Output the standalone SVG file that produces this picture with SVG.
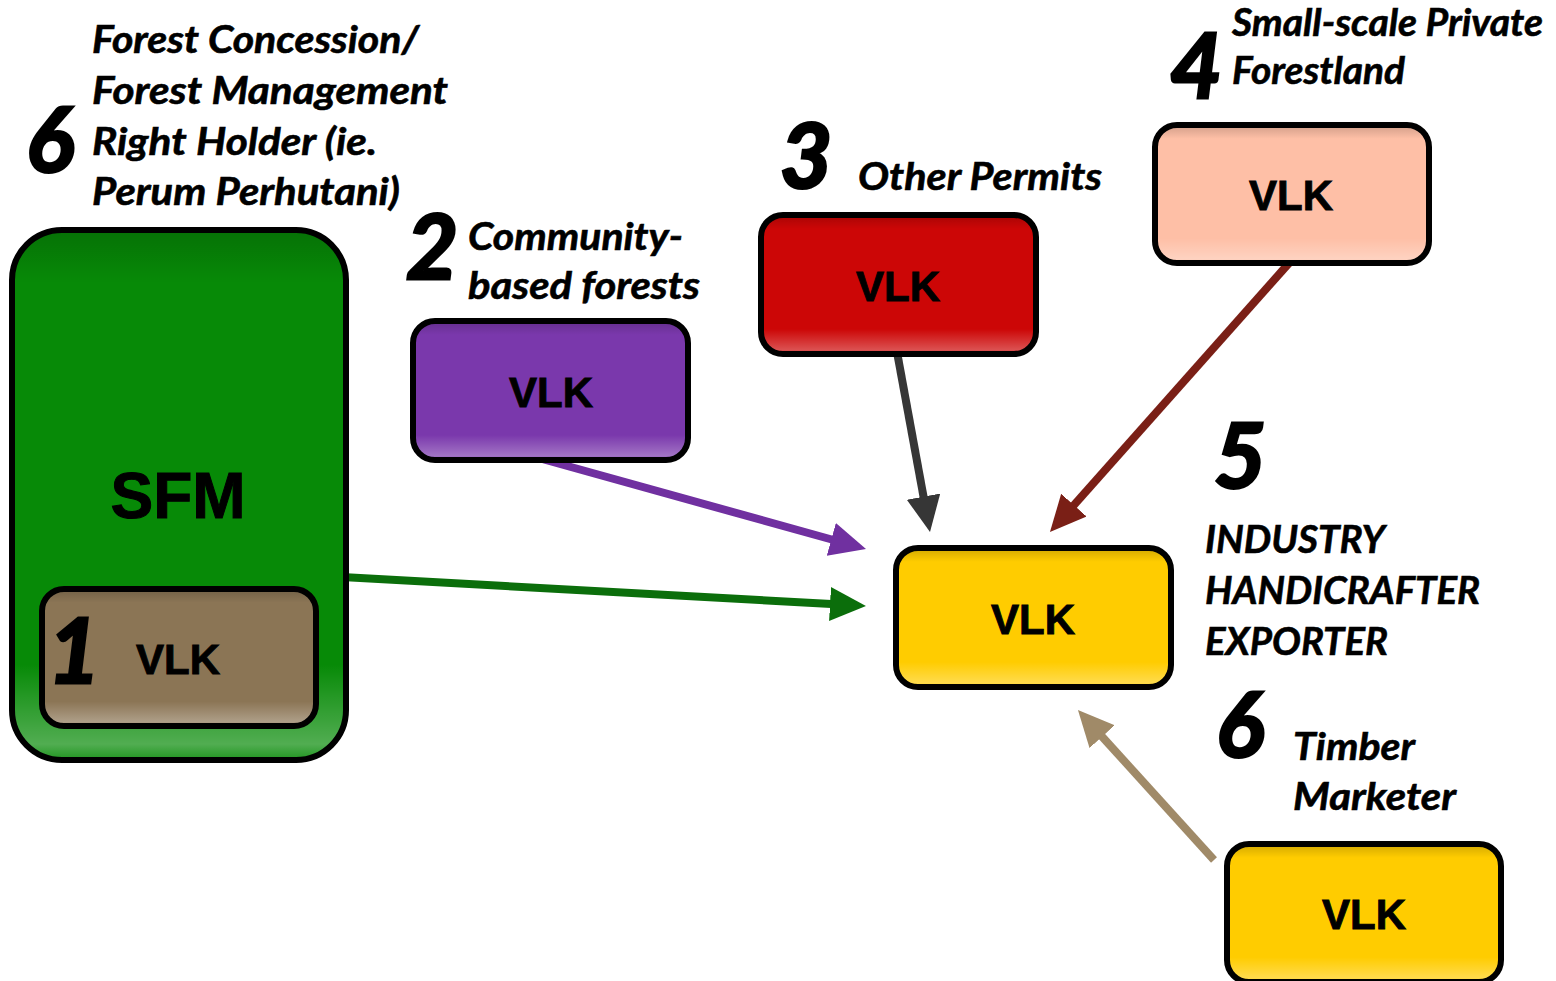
<svg xmlns="http://www.w3.org/2000/svg" width="1556" height="981" viewBox="0 0 1556 981">
<style>
.frame{stroke:#000;stroke-width:6;}
.gel{fill:url(#gel);}
.vlk{font-family:"Liberation Sans",Arial,sans-serif;font-weight:700;font-size:42px;fill:#000;stroke:#000;stroke-width:0.9;text-anchor:middle;}
.lbl{font-family:Lato,"Open Sans",sans-serif;font-weight:700;font-style:italic;font-size:38px;fill:#000;stroke:#000;stroke-width:0.6;}
.num{font-family:Lato,"Open Sans",sans-serif;font-weight:700;font-style:italic;font-size:90px;fill:#000;stroke:#000;stroke-width:3;}
.arr{fill:none;stroke-width:8;}
</style>
<defs>
<linearGradient id="gel" x1="0" y1="0" x2="0" y2="1">
<stop offset="0" stop-color="#000" stop-opacity="0.18"/>
<stop offset="0.1" stop-color="#000" stop-opacity="0"/>
<stop offset="0.82" stop-color="#fff" stop-opacity="0"/>
<stop offset="0.97" stop-color="#fff" stop-opacity="0.3"/>
<stop offset="1" stop-color="#fff" stop-opacity="0.1"/>
</linearGradient>
<marker id="mGreen" markerUnits="userSpaceOnUse" markerWidth="40" markerHeight="36" refX="6" refY="17" orient="auto"><path d="M0,0 L36,17 L0,34 z" fill="#0B6E0B"/></marker>
<marker id="mPurple" markerUnits="userSpaceOnUse" markerWidth="40" markerHeight="36" refX="6" refY="17" orient="auto"><path d="M0,0 L36,17 L0,34 z" fill="#7030A0"/></marker>
<marker id="mGray" markerUnits="userSpaceOnUse" markerWidth="40" markerHeight="36" refX="6" refY="17" orient="auto"><path d="M0,0 L36,17 L0,34 z" fill="#363636"/></marker>
<marker id="mRed" markerUnits="userSpaceOnUse" markerWidth="40" markerHeight="36" refX="6" refY="17" orient="auto"><path d="M0,0 L36,17 L0,34 z" fill="#7A1F16"/></marker>
<marker id="mTan" markerUnits="userSpaceOnUse" markerWidth="40" markerHeight="36" refX="6" refY="17" orient="auto"><path d="M0,0 L36,17 L0,34 z" fill="#A08A68"/></marker>
</defs>
<rect width="1556" height="981" fill="#fff"/>

<g id="connectors">
<line class="arr" x1="342" y1="577" x2="836" y2="604.3" stroke="#0B6E0B" marker-end="url(#mGreen)"/>
<line class="arr" x1="535" y1="457" x2="837.1" y2="541" stroke="#7030A0" marker-end="url(#mPurple)"/>
<line class="arr" x1="897" y1="352" x2="924.6" y2="502.5" stroke="#363636" marker-end="url(#mGray)"/>
<line class="arr" x1="1290" y1="262" x2="1069.9" y2="509.6" stroke="#7A1F16" marker-end="url(#mRed)"/>
<line class="arr" x1="1214" y1="860" x2="1098.1" y2="732.2" stroke="#A08A68" marker-end="url(#mTan)"/>
</g>

<g id="node-sfm">
<rect x="12" y="230" width="334" height="530" rx="50" fill="#078A07"/>
<rect x="12" y="230" width="334" height="530" rx="50" class="gel"/>
<rect x="12" y="230" width="334" height="530" rx="50" fill="none" class="frame"/>
<text x="178" y="518" font-family="Liberation Sans,Arial,sans-serif" font-weight="700" font-size="64" text-anchor="middle" stroke="#000" stroke-width="1">SFM</text>
</g>

<g id="node-1">
<rect x="42" y="589" width="274" height="137" rx="22" fill="#8B7555"/>
<rect x="42" y="589" width="274" height="137" rx="22" class="gel"/>
<rect x="42" y="589" width="274" height="137" rx="22" fill="none" class="frame"/>
<text class="num" x="48" y="683">1</text>
<text class="vlk" x="178" y="674">VLK</text>
</g>

<g id="label-6-forest">
<text class="num" x="26" y="172">6</text>
<text class="lbl" x="92" y="53" textLength="327" lengthAdjust="spacingAndGlyphs">Forest Concession/</text>
<text class="lbl" x="92" y="104" textLength="356" lengthAdjust="spacingAndGlyphs">Forest Management</text>
<text class="lbl" x="92" y="155" textLength="285" lengthAdjust="spacingAndGlyphs">Right Holder (ie.</text>
<text class="lbl" x="92" y="205" textLength="308" lengthAdjust="spacingAndGlyphs">Perum Perhutani)</text>
</g>

<g id="node-2">
<text class="num" x="406" y="279">2</text>
<text class="lbl" x="468" y="250" textLength="215" lengthAdjust="spacingAndGlyphs">Community-</text>
<text class="lbl" x="468" y="299" textLength="232" lengthAdjust="spacingAndGlyphs">based forests</text>
<rect x="413" y="321" width="275" height="139" rx="22" fill="#7A38AC"/>
<rect x="413" y="321" width="275" height="139" rx="22" class="gel"/>
<rect x="413" y="321" width="275" height="139" rx="22" fill="none" class="frame"/>
<text class="vlk" x="551" y="407">VLK</text>
</g>

<g id="node-3">
<text class="num" x="780" y="188">3</text>
<text class="lbl" x="858" y="190" textLength="244" lengthAdjust="spacingAndGlyphs">Other Permits</text>
<rect x="761" y="215" width="275" height="139" rx="22" fill="#CC0606"/>
<rect x="761" y="215" width="275" height="139" rx="22" class="gel"/>
<rect x="761" y="215" width="275" height="139" rx="22" fill="none" class="frame"/>
<text class="vlk" x="898" y="301">VLK</text>
</g>

<g id="node-4">
<text class="num" x="1170" y="98">4</text>
<text class="lbl" x="1232" y="36" textLength="311" lengthAdjust="spacingAndGlyphs">Small-scale Private</text>
<text class="lbl" x="1232" y="84" textLength="173" lengthAdjust="spacingAndGlyphs">Forestland</text>
<rect x="1155" y="125" width="274" height="138" rx="22" fill="#FEBFA6"/>
<rect x="1155" y="125" width="274" height="138" rx="22" class="gel"/>
<rect x="1155" y="125" width="274" height="138" rx="22" fill="none" class="frame"/>
<text class="vlk" x="1291" y="210">VLK</text>
</g>

<g id="node-5">
<rect x="896" y="548" width="275" height="139" rx="22" fill="#FFCC00"/>
<rect x="896" y="548" width="275" height="139" rx="22" class="gel"/>
<rect x="896" y="548" width="275" height="139" rx="22" fill="none" class="frame"/>
<text class="vlk" x="1033" y="634">VLK</text>
<text class="num" x="1214" y="488">5</text>
<text class="lbl" x="1205" y="553" textLength="180" lengthAdjust="spacingAndGlyphs">INDUSTRY</text>
<text class="lbl" x="1205" y="604" textLength="275" lengthAdjust="spacingAndGlyphs">HANDICRAFTER</text>
<text class="lbl" x="1205" y="655" textLength="183" lengthAdjust="spacingAndGlyphs">EXPORTER</text>
</g>

<g id="node-6">
<text class="num" x="1216" y="757">6</text>
<text class="lbl" x="1293" y="760" textLength="122" lengthAdjust="spacingAndGlyphs">Timber</text>
<text class="lbl" x="1293" y="810" textLength="163" lengthAdjust="spacingAndGlyphs">Marketer</text>
<rect x="1227" y="844" width="274" height="138" rx="22" fill="#FFCC00"/>
<rect x="1227" y="844" width="274" height="138" rx="22" class="gel"/>
<rect x="1227" y="844" width="274" height="138" rx="22" fill="none" class="frame"/>
<text class="vlk" x="1364" y="929">VLK</text>
</g>
</svg>
